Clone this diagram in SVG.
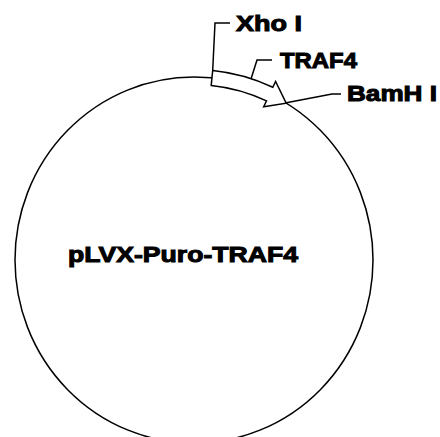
<svg xmlns="http://www.w3.org/2000/svg" width="440" height="437" viewBox="0 0 440 437">
  <style>
    .line { fill: none; stroke: #000; stroke-width: 1.5; }
    .lbl { font-family: "Liberation Sans", Arial, sans-serif; font-weight: bold; font-size: 22px; fill: #000; stroke: #000; stroke-width: 1; }
  </style>
  <rect width="440" height="437" fill="#fff"/>
  <g id="plasmid">
    <ellipse cx="194" cy="260" rx="179" ry="183" class="line" stroke-width="1.6"/>
    <text class="lbl" x="68" y="262" textLength="230" lengthAdjust="spacingAndGlyphs">pLVX-Puro-TRAF4</text>
  </g>
  <g id="TRAF4-feature">
    <path class="line" d="M212.7,70.5 A186.5,190.5 0 0 1 272.8,87.3 L275.6,81.5 L286.2,103.2 L263.7,106.8 L266.5,100.9 A171.5,175.5 0 0 0 211.2,85.4 Z" style="fill:#fff"/>
  </g>
  <g id="connectors">
    <polyline class="line" points="212.7,70.5 215,23 230,23"/>
    <polyline class="line" points="251,79 257,60 272,60"/>
    <polyline class="line" points="285,103 332,94 341,94"/>
  </g>
  <g id="label-XhoI">
    <text class="lbl" x="236" y="31" textLength="66" lengthAdjust="spacingAndGlyphs">Xho I</text>
  </g>
  <g id="label-TRAF4">
    <text class="lbl" x="280" y="68" textLength="77" lengthAdjust="spacingAndGlyphs">TRAF4</text>
  </g>
  <g id="label-BamHI">
    <text class="lbl" x="347" y="101" textLength="90" lengthAdjust="spacingAndGlyphs">BamH I</text>
  </g>
</svg>
